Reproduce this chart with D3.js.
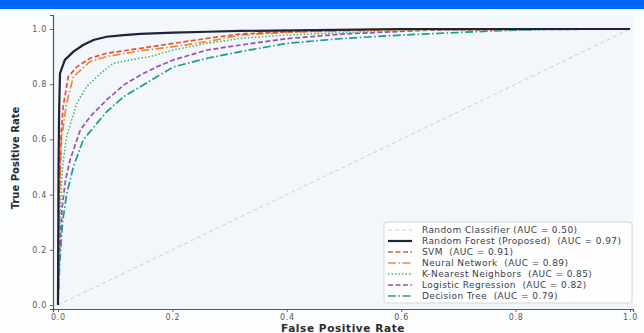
<!DOCTYPE html>
<html>
<head>
<meta charset="utf-8">
<script src="https://cdn.jsdelivr.net/npm/d3@7"></script>
<style>
  body { margin: 0; background: #fcfdfe; }
  text { font-family: "DejaVu Sans", sans-serif; }
</style>
</head>
<body>
<div class="chart"></div>
<script>
// ROC curves (FPR, TPR)
var modelNames = ["Random Forest (Proposed)", "SVM", "Neural Network", "K-Nearest Neighbors", "Logistic Regression", "Decision Tree"];
var modelAuc = [0.97, 0.91, 0.89, 0.85, 0.82, 0.79];

var fprRF  = [0, 0.001, 0.002, 0.0035, 0.012, 0.027, 0.044, 0.062, 0.085, 0.115, 0.144, 0.202, 0.261, 0.319, 0.45, 0.6, 1];
var tprRF  = [0, 0.5, 0.7, 0.839, 0.888, 0.918, 0.942, 0.960, 0.972, 0.978, 0.982, 0.987, 0.990, 0.993, 0.996, 1, 1];

var fprSVM = [0, 0.002, 0.005, 0.009, 0.018, 0.033, 0.056, 0.085, 0.115, 0.144, 0.202, 0.261, 0.319, 0.4, 0.55, 1];
var tprSVM = [0, 0.4, 0.6, 0.718, 0.827, 0.863, 0.894, 0.912, 0.921, 0.930, 0.948, 0.966, 0.982, 0.99, 0.998, 1];

var fprNN  = [0, 0.002, 0.006, 0.015, 0.027, 0.056, 0.085, 0.144, 0.202, 0.261, 0.319, 0.4, 0.6, 1];
var tprNN  = [0, 0.35, 0.6, 0.731, 0.827, 0.882, 0.900, 0.921, 0.936, 0.954, 0.978, 0.988, 0.998, 1];

var fprKNN = [0, 0.003, 0.008, 0.015, 0.033, 0.050, 0.074, 0.097, 0.126, 0.161, 0.202, 0.261, 0.319, 0.4, 0.6, 1];
var tprKNN = [0, 0.3, 0.5, 0.610, 0.731, 0.791, 0.839, 0.876, 0.888, 0.900, 0.924, 0.948, 0.966, 0.978, 0.995, 1];

var fprLR  = [0, 0.003, 0.007, 0.013, 0.021, 0.039, 0.056, 0.085, 0.115, 0.144, 0.173, 0.202, 0.261, 0.319, 0.4, 0.5, 0.65, 1];
var tprLR  = [0, 0.2, 0.35, 0.45, 0.525, 0.634, 0.682, 0.743, 0.797, 0.833, 0.863, 0.888, 0.924, 0.942, 0.965, 0.982, 0.996, 1];

var fprDT  = [0, 0.003, 0.008, 0.015, 0.027, 0.044, 0.068, 0.085, 0.115, 0.144, 0.173, 0.202, 0.261, 0.319, 0.4, 0.5, 0.6, 0.75, 0.85, 1];
var tprDT  = [0, 0.15, 0.3, 0.4, 0.501, 0.598, 0.658, 0.700, 0.755, 0.791, 0.827, 0.863, 0.894, 0.918, 0.948, 0.966, 0.978, 0.992, 0.999, 1];

var xTicks = [0, 0.2, 0.4, 0.6, 0.8, 1.0];
var yTicks = [0, 0.2, 0.4, 0.6, 0.8, 1.0];

var W = 644, H = 333;

var svg = d3.select(".chart").append("svg")
    .attr("width", W)
    .attr("height", H);

// blue strip at the top
svg.append("rect").attr("x", 0).attr("y", 0).attr("width", W).attr("height", 9).attr("fill", "#0064fb");

var x = d3.scaleLinear().domain([-0.0087, 1.0052]).range([53, 633]);
var y = d3.scaleLinear().domain([-0.0145, 1.0507]).range([309, 15]);

// axes background
svg.append("rect")
    .attr("x", 53).attr("y", 15)
    .attr("width", 580).attr("height", 294)
    .attr("fill", "#f3f6fa");

var xAxis = svg.append("g")
    .attr("transform", "translate(0,309)")
    .call(d3.axisBottom(x).tickValues(xTicks).tickFormat(d3.format(".1f")).tickSizeOuter(0).tickSize(3).tickPadding(2));
var yAxis = svg.append("g")
    .attr("transform", "translate(53,0)")
    .call(d3.axisLeft(y).tickValues(yTicks).tickFormat(d3.format(".1f")).tickSizeOuter(0).tickSize(3).tickPadding(3));

[xAxis, yAxis].forEach(function(a) {
    a.select(".domain").attr("stroke", "#555").attr("stroke-width", 1.2);
    a.selectAll(".tick line").attr("stroke", "#666");
    a.selectAll(".tick text").attr("fill", "#5a5a5a").style("font-size", "8px").style("letter-spacing", "0.7px");
});

svg.append("text")
    .attr("x", 343).attr("y", 332)
    .attr("text-anchor", "middle")
    .style("font-size", "10.5px").style("font-weight", "bold").style("letter-spacing", "0.6px")
    .attr("fill", "#2b2b2b")
    .text("False Positive Rate");

svg.append("text")
    .attr("transform", "translate(19,158) rotate(-90)")
    .attr("text-anchor", "middle")
    .style("font-size", "10px").style("font-weight", "bold")
    .attr("fill", "#2b2b2b")
    .text("True Positive Rate");

var line = d3.line()
    .x(function(d) { return x(d[0]); })
    .y(function(d) { return y(d[1]); });

function zipRoc(fpr, tpr) {
    return fpr.map(function(f, i) { return [f, tpr[i]]; });
}

var series = [
    { label: "Random Classifier (AUC = 0.50)", pts: [[0, 0], [1, 1]], color: "#c9ccd1", width: 1, dash: "4,3" },
    { label: modelNames[0] + "  (AUC = " + modelAuc[0].toFixed(2) + ")", pts: zipRoc(fprRF, tprRF), color: "#1d2338", width: 2.2, dash: null },
    { label: modelNames[1] + "  (AUC = " + modelAuc[1].toFixed(2) + ")", pts: zipRoc(fprSVM, tprSVM), color: "#e0533c", width: 1.7, dash: "5,2.5" },
    { label: modelNames[2] + "  (AUC = " + modelAuc[2].toFixed(2) + ")", pts: zipRoc(fprNN, tprNN), color: "#f08a2c", width: 1.7, dash: "8,2.5,1.5,2.5" },
    { label: modelNames[3] + "  (AUC = " + modelAuc[3].toFixed(2) + ")", pts: zipRoc(fprKNN, tprKNN), color: "#3fb85f", width: 1.5, dash: "1.5,2" },
    { label: modelNames[4] + "  (AUC = " + modelAuc[4].toFixed(2) + ")", pts: zipRoc(fprLR, tprLR), color: "#9550b5", width: 1.7, dash: "5,2.5" },
    { label: modelNames[5] + "  (AUC = " + modelAuc[5].toFixed(2) + ")", pts: zipRoc(fprDT, tprDT), color: "#17a086", width: 1.7, dash: "8,2.5,1.5,2.5" }
];

// draw from back to front, baseline and weakest model first
var drawOrder = [0, 6, 5, 4, 3, 2, 1];
drawOrder.forEach(function(i) {
    var s = series[i];
    svg.append("path")
        .datum(s.pts)
        .attr("d", line)
        .attr("fill", "none")
        .attr("stroke", s.color)
        .attr("stroke-width", s.width)
        .attr("stroke-dasharray", s.dash);
});

// legend
var legend = svg.append("g").attr("transform", "translate(384,222)");
legend.append("rect")
    .attr("width", 248).attr("height", 81).attr("rx", 2)
    .attr("fill", "#ffffff").attr("fill-opacity", 0.85)
    .attr("stroke", "#d4d7dc");

var item = legend.selectAll(".item")
    .data(series)
    .enter().append("g")
    .attr("class", "item")
    .attr("transform", function(d, i) { return "translate(0," + (8 + i * 11) + ")"; });

item.append("line")
    .attr("x1", 4).attr("x2", 28)
    .attr("stroke", function(d) { return d.color; })
    .attr("stroke-width", function(d) { return d.width; })
    .attr("stroke-dasharray", function(d) { return d.dash; });

item.append("text")
    .attr("x", 38).attr("dy", "0.35em")
    .style("font-size", "9px").style("white-space", "pre").style("letter-spacing", "0.4px")
    .attr("fill", "#3b3f4a")
    .text(function(d) { return d.label; });
</script>
</body>
</html>
